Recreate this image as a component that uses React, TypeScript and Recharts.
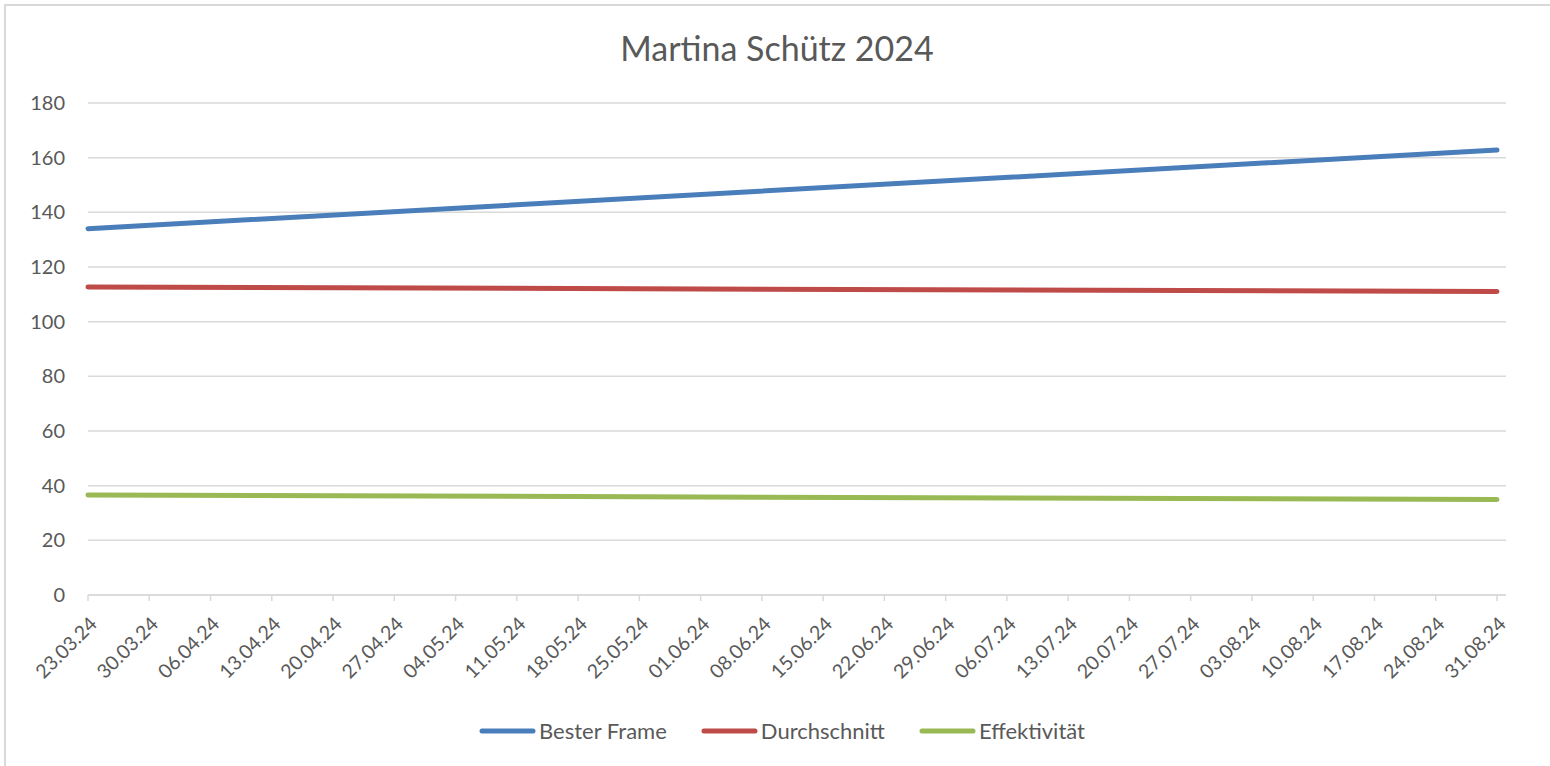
import React from "react";
import { LineChart, Line, XAxis, YAxis, CartesianGrid, Legend } from "recharts";

const dates = [
  "23.03.24", "30.03.24", "06.04.24", "13.04.24", "20.04.24", "27.04.24",
  "04.05.24", "11.05.24", "18.05.24", "25.05.24", "01.06.24", "08.06.24",
  "15.06.24", "22.06.24", "29.06.24", "06.07.24", "13.07.24", "20.07.24",
  "27.07.24", "03.08.24", "10.08.24", "17.08.24", "24.08.24", "31.08.24",
];

// Values read at the first and last date; the lines are straight between them.
const besterFrame: (number | null)[] = [134, ...Array(22).fill(null), 162.8];
const durchschnitt: (number | null)[] = [112.7, ...Array(22).fill(null), 111.0];
const effektivitaet: (number | null)[] = [36.6, ...Array(22).fill(null), 34.9];

const yTicks = [0, 20, 40, 60, 80, 100, 120, 140, 160, 180];

const seriesNames = ["Bester Frame", "Durchschnitt", "Effektivität"];
const seriesColors = ["#4A7EBB", "#BE4B48", "#98B954"];

const data = dates.map((d, i) => ({
  date: d,
  bester: besterFrame[i],
  durch: durchschnitt[i],
  eff: effektivitaet[i],
}));

const FONT = "Lato, 'Open Sans', sans-serif";
const TEXT = "#595959";

const XTick = (props: any) => {
  const { x, y, payload } = props;
  return (
    <text
      transform={`translate(${x + 5}, ${y + 17}) rotate(-45)`}
      textAnchor="end"
      dominantBaseline="central"
      fill={TEXT}
      fontSize={19.5}
      fontFamily={FONT}
    >
      {payload.value}
    </text>
  );
};

const LegendContent = () => (
  <div
    style={{
      display: "flex",
      justifyContent: "center",
      alignItems: "center",
      height: 20,
      fontFamily: FONT,
      fontSize: 22,
      lineHeight: "20px",
      color: TEXT,
      gap: 34,
      paddingLeft: 14,
    }}
  >
    {seriesNames.map((n, i) => (
      <div key={n} style={{ display: "flex", alignItems: "center" }}>
        <svg width={57} height={8} style={{ marginRight: 3 }}>
          <line x1={3} y1={4} x2={54} y2={4} stroke={seriesColors[i]} strokeWidth={5} strokeLinecap="round" />
        </svg>
        <span>{n}</span>
      </div>
    ))}
  </div>
);

export default function App() {
  return (
    <div style={{ position: "fixed", left: 0, top: 0, width: 1550, height: 766, background: "#fff", overflow: "hidden" }}>
      <div
        style={{
          position: "absolute",
          left: 4,
          top: 4,
          width: 1570,
          height: 790,
          border: "2px solid #D9D9D9",
          boxSizing: "border-box",
        }}
      />
      <div
        style={{
          position: "absolute",
          left: 0,
          top: 26,
          width: 1554,
          textAlign: "center",
          fontFamily: FONT,
          fontSize: 34,
          lineHeight: "44px",
          color: TEXT,
        }}
      >
        Martina Schütz 2024
      </div>
      <div style={{ position: "absolute", left: 0, top: 0 }}>
        <LineChart width={1550} height={766} data={data} margin={{ top: 103, right: 44, left: 28, bottom: 71 }}>
          <CartesianGrid vertical={false} stroke="#D9D9D9" strokeWidth={1.5} />
          <XAxis
            dataKey="date"
            interval={0}
            padding={{ left: 0, right: 9 }}
            axisLine={{ stroke: "#D9D9D9", strokeWidth: 1.5 }}
            tickLine={{ stroke: "#D9D9D9", strokeWidth: 1.5 }}
            tickSize={6}
            height={80}
            tick={<XTick />}
          />
          <YAxis
            width={60}
            domain={[0, 180]}
            ticks={yTicks}
            axisLine={false}
            tickLine={false}
            tickMargin={17}
            tick={{ fill: TEXT, fontSize: 20, fontFamily: FONT }}
          />
          <Legend
            content={<LegendContent />}
            wrapperStyle={{ position: "absolute", top: 721, left: 0, width: 1550, height: 20 }}
          />
          <Line dataKey="bester" name={seriesNames[0]} stroke={seriesColors[0]} strokeWidth={5} dot={false} connectNulls isAnimationActive={false} strokeLinecap="round" />
          <Line dataKey="durch" name={seriesNames[1]} stroke={seriesColors[1]} strokeWidth={5} dot={false} connectNulls isAnimationActive={false} strokeLinecap="round" />
          <Line dataKey="eff" name={seriesNames[2]} stroke={seriesColors[2]} strokeWidth={5} dot={false} connectNulls isAnimationActive={false} strokeLinecap="round" />
        </LineChart>
      </div>
    </div>
  );
}
